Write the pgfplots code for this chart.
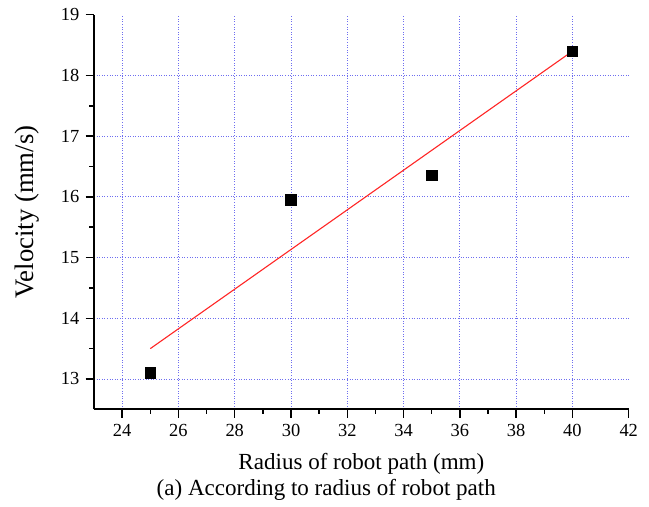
\documentclass[border=0pt]{standalone}
\usepackage{fontspec}
\setmainfont{Liberation Serif}
\usepackage{pgfplots}
\pgfplotsset{compat=1.18}
\definecolor{gridblue}{RGB}{110,110,240}

\begin{document}
\begin{tikzpicture}
\begin{axis}[
    scale only axis,
    width=290pt, height=214pt,
    xmin=23, xmax=42, ymin=12.5, ymax=19,
    axis x line*=bottom, axis y line*=left,
    axis line style={line width=1pt, -},
    xtick={24,26,...,40}, extra x ticks={42},
    ytick={13,14,...,18}, extra y ticks={19},
    extra tick style={grid=none},
    minor x tick num=1, minor y tick num=1,
    tick align=outside,
    major tick length=4.5pt, minor tick length=2.5pt,
    tick style={black, line width=0.8pt},
    grid=major,
    major grid style={gridblue, densely dotted, line width=0.5pt},
    ticklabel style={font=\fontsize{10}{12}\selectfont},
    /pgf/number format/assume math mode=true,
    xlabel={Radius of robot path (mm)},
    ylabel={Velocity (mm/s)},
    xlabel style={font=\fontsize{12.5}{14}\selectfont, yshift=7pt},
    ylabel style={font=\fontsize{14.5}{16}\selectfont, yshift=-4pt},
    clip=false,
]
\addplot[red!85!white, line width=0.6pt] coordinates {(25,13.5) (40,18.4)};
\addplot[only marks, mark=square*, mark size=2.8pt, black] coordinates {
    (25,13.1) (30,15.95) (35,16.35) (40,18.4)
};
\end{axis}
\node[anchor=north, font=\fontsize{12.5}{14}\selectfont] at ([yshift=4pt]current axis.outer south) {(a) According to radius of robot path};
\path ([xshift=-51pt]current axis.south west) rectangle ([xshift=11pt, yshift=8pt]current axis.north east);
\end{tikzpicture}
\end{document}
